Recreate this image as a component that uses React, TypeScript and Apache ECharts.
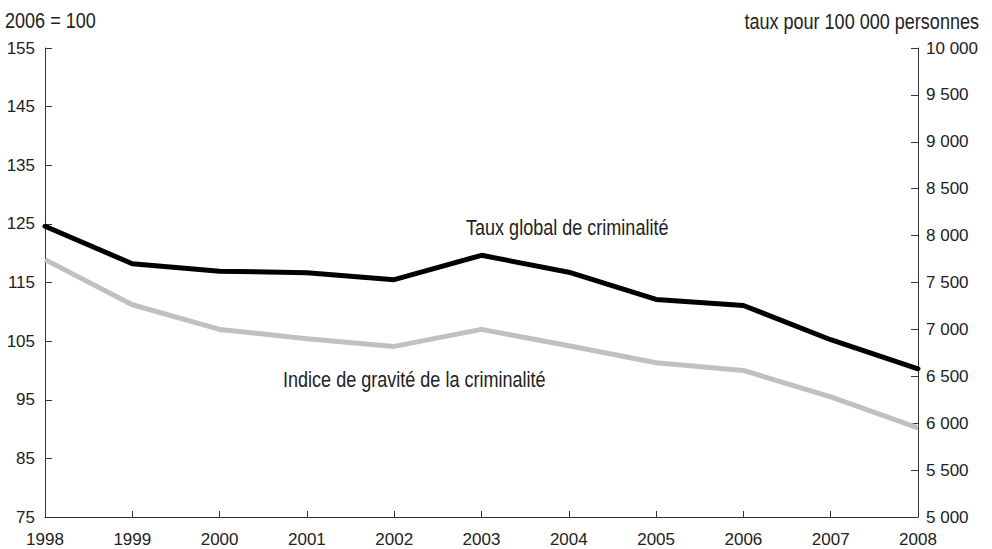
import React, { useEffect, useRef } from 'react';
import * as echarts from 'echarts';

const years = ['1998', '1999', '2000', '2001', '2002', '2003', '2004', '2005', '2006', '2007', '2008'];
// Taux global de criminalité (taux pour 100 000 personnes, axe de droite)
const tauxGlobal = [8100, 7700, 7620, 7605, 7530, 7790, 7610, 7320, 7255, 6890, 6580];
// Indice de gravité de la criminalité (2006 = 100, axe de gauche)
const indiceGravite = [118.9, 111.2, 107.0, 105.4, 104.1, 107.0, 104.2, 101.3, 100.0, 95.5, 90.2];

const leftAxisTitle = '2006 = 100';
const rightAxisTitle = 'taux pour 100 000 personnes';
const tauxLabel = 'Taux global de criminalité';
const indiceLabel = 'Indice de gravité de la criminalité';

const FONT = '"Liberation Sans", Arial, sans-serif';
const TEXT = '#222';
const AXIS = '#333';
const NARROW = 0.82;

const fmtThousands = (v: number) => String(v).replace(/\B(?=(\d{3})+(?!\d))/g, ' ');

export default function App() {
  const ref = useRef<HTMLDivElement>(null);
  useEffect(() => {
    const chart = echarts.init(ref.current!, null, { renderer: 'svg' });
    const axisCommon = {
      axisLine: { show: true, lineStyle: { color: AXIS, width: 1 } },
      axisTick: { show: true, inside: true, length: 7, lineStyle: { color: AXIS, width: 1 } },
      splitLine: { show: false },
    };
    const label = (x: number, y: number, text: string, align: string, size = 22) => ({
      type: 'text',
      x,
      y,
      scaleX: NARROW,
      style: { text, font: `${size}px ${FONT}`, fill: TEXT, align, verticalAlign: 'middle' },
    });
    chart.setOption({
      animation: false,
      backgroundColor: '#fff',
      grid: { left: 45, right: 74, top: 48, bottom: 32, containLabel: false, outerBoundsMode: 'none' },
      xAxis: {
        type: 'category',
        data: years,
        boundaryGap: false,
        axisLine: { show: true, lineStyle: { color: AXIS, width: 1 } },
        axisTick: { show: true, inside: true, length: 6, lineStyle: { color: AXIS, width: 1 } },
        axisLabel: { color: TEXT, fontSize: 17, fontFamily: FONT, margin: 14, interval: 0 },
        splitLine: { show: false },
      },
      yAxis: [
        {
          type: 'value',
          position: 'left',
          min: 75,
          max: 155,
          interval: 10,
          ...axisCommon,
          axisLabel: { color: TEXT, fontSize: 17, fontFamily: FONT, margin: 10 },
        },
        {
          type: 'value',
          position: 'right',
          min: 5000,
          max: 10000,
          interval: 500,
          ...axisCommon,
          axisLabel: { color: TEXT, fontSize: 17, fontFamily: FONT, margin: 8, formatter: fmtThousands },
        },
      ],
      series: [
        {
          type: 'line',
          name: indiceLabel,
          yAxisIndex: 0,
          data: indiceGravite,
          symbol: 'none',
          lineStyle: { color: '#c0c0c0', width: 5 },
          z: 2,
        },
        {
          type: 'line',
          name: tauxLabel,
          yAxisIndex: 1,
          data: tauxGlobal,
          symbol: 'none',
          lineStyle: { color: '#000', width: 5, cap: 'round' },
          z: 3,
        },
      ],
      graphic: [
        label(5, 20, leftAxisTitle, 'left', 22),
        label(979, 21, rightAxisTitle, 'right'),
        label(466, 227, tauxLabel, 'left'),
        label(283, 379, indiceLabel, 'left'),
      ],
    });
    return () => chart.dispose();
  }, []);
  return (
    <div
      ref={ref}
      style={{ position: 'fixed', left: 0, top: 0, width: 992, height: 549, background: '#fff' }}
    />
  );
}
